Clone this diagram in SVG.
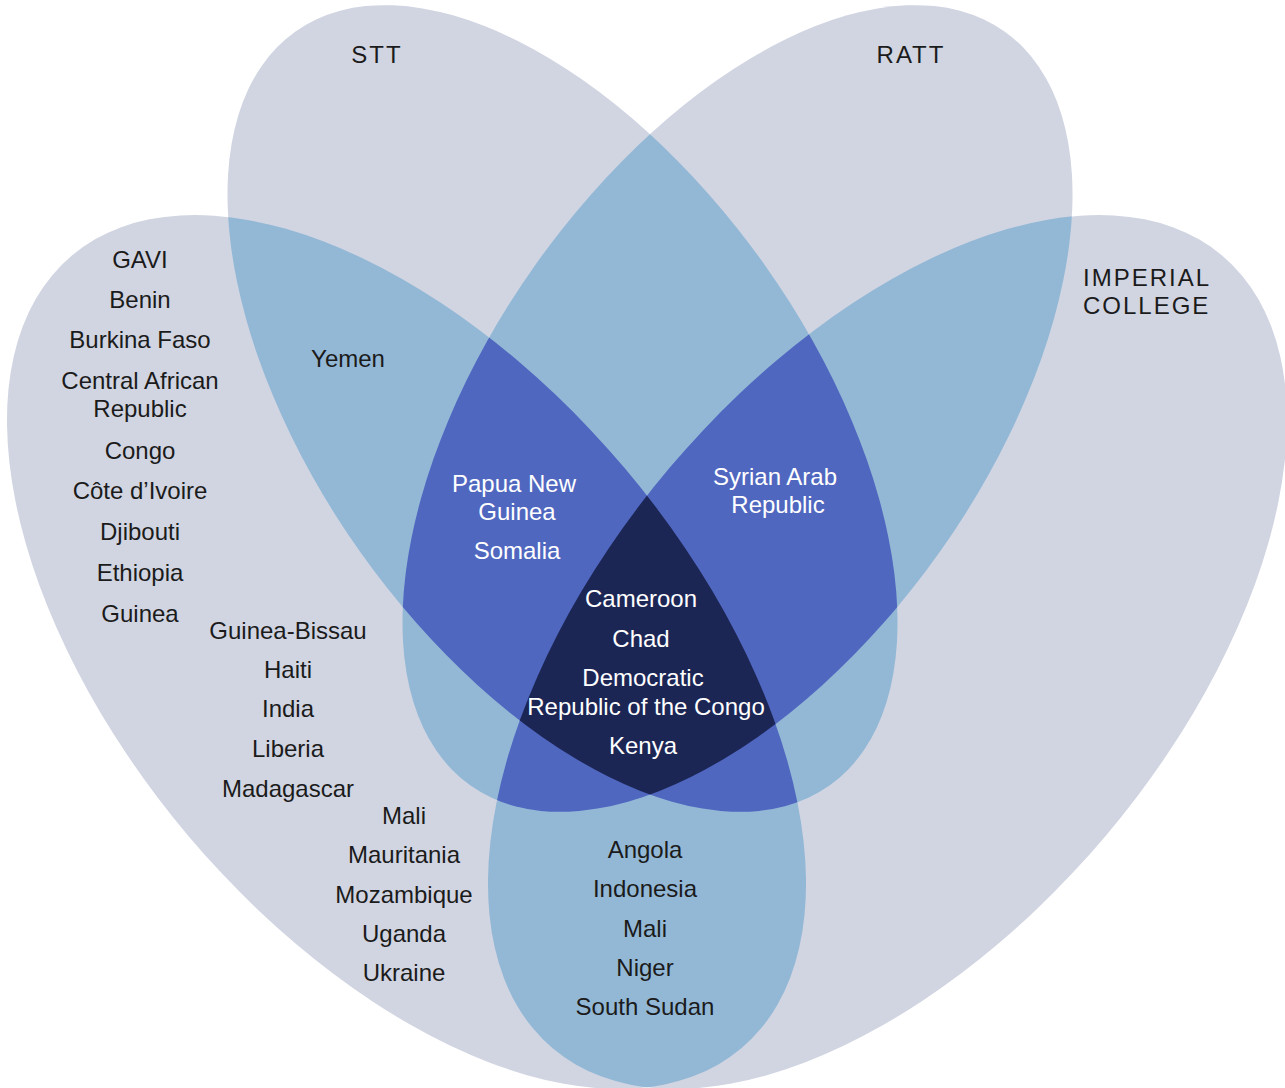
<svg xmlns="http://www.w3.org/2000/svg" width="1285" height="1088" viewBox="0 0 1285 1088">
<style>
.t{font-family:"Liberation Sans",Arial,sans-serif;font-size:24px;text-anchor:middle;fill:#1b1b1b}
.w{fill:#ffffff}
.h{letter-spacing:2px}
.s{text-anchor:start}
</style>
<defs>
<ellipse id="eG" cx="406.5" cy="652" rx="518.8" ry="285.3" transform="rotate(49.8 406.5 652)"/>
<ellipse id="eS" cx="562.5" cy="408.5" rx="462" ry="248" transform="rotate(54.7 562.5 408.5)"/>
<ellipse id="eR" cx="737.5" cy="408.5" rx="462" ry="248" transform="rotate(-54.7 737.5 408.5)"/>
<ellipse id="eI" cx="887.5" cy="652" rx="518.8" ry="285.3" transform="rotate(-49.8 887.5 652)"/>
<clipPath id="cG"><ellipse cx="406.5" cy="652" rx="518.8" ry="285.3" transform="rotate(49.8 406.5 652)"/></clipPath>
<clipPath id="cS"><ellipse cx="562.5" cy="408.5" rx="462" ry="248" transform="rotate(54.7 562.5 408.5)"/></clipPath>
<clipPath id="cR"><ellipse cx="737.5" cy="408.5" rx="462" ry="248" transform="rotate(-54.7 737.5 408.5)"/></clipPath>
<clipPath id="cI"><ellipse cx="887.5" cy="652" rx="518.8" ry="285.3" transform="rotate(-49.8 887.5 652)"/></clipPath>
</defs>
<rect width="1285" height="1088" fill="#ffffff"/>
<g id="sets" fill="#d1d5e2">
<g id="gavi"><use href="#eG"/></g>
<g id="stt"><use href="#eS"/></g>
<g id="ratt"><use href="#eR"/></g>
<g id="imperial"><use href="#eI"/></g>
</g>
<g id="overlap2" fill="#93b8d6">
<use href="#eS" clip-path="url(#cG)"/>
<use href="#eR" clip-path="url(#cG)"/>
<use href="#eI" clip-path="url(#cG)"/>
<use href="#eR" clip-path="url(#cS)"/>
<use href="#eI" clip-path="url(#cS)"/>
<use href="#eI" clip-path="url(#cR)"/>
</g>
<g id="overlap3" fill="#5067c0">
<g clip-path="url(#cG)"><use href="#eR" clip-path="url(#cS)"/></g>
<g clip-path="url(#cG)"><use href="#eI" clip-path="url(#cS)"/></g>
<g clip-path="url(#cG)"><use href="#eI" clip-path="url(#cR)"/></g>
<g clip-path="url(#cS)"><use href="#eI" clip-path="url(#cR)"/></g>
</g>
<g id="overlap4" fill="#1c2655">
<g clip-path="url(#cG)"><g clip-path="url(#cS)"><use href="#eI" clip-path="url(#cR)"/></g></g>
</g>
<g id="label-stt"><text class="t h" x="377" y="63">STT</text></g>
<g id="label-ratt"><text class="t h" x="911" y="63">RATT</text></g>
<g id="label-imperial"><text class="t h s" x="1083" y="286">IMPERIAL</text><text class="t h s" x="1083" y="314">COLLEGE</text></g>
<g id="gavi-only">
<text class="t" x="140" y="268">GAVI</text>
<text class="t" x="140" y="308">Benin</text>
<text class="t" x="140" y="347.5">Burkina Faso</text>
<text class="t" x="140" y="389">Central African</text>
<text class="t" x="140" y="417">Republic</text>
<text class="t" x="140" y="458.5">Congo</text>
<text class="t" x="140" y="498.5">Côte d’Ivoire</text>
<text class="t" x="140" y="540">Djibouti</text>
<text class="t" x="140" y="581">Ethiopia</text>
<text class="t" x="140" y="621.5">Guinea</text>
<text class="t" x="288" y="639">Guinea-Bissau</text>
<text class="t" x="288" y="677.5">Haiti</text>
<text class="t" x="288" y="717">India</text>
<text class="t" x="288" y="757">Liberia</text>
<text class="t" x="288" y="797">Madagascar</text>
<text class="t" x="404" y="823.5">Mali</text>
<text class="t" x="404" y="863">Mauritania</text>
<text class="t" x="404" y="902.5">Mozambique</text>
<text class="t" x="404" y="942">Uganda</text>
<text class="t" x="404" y="981">Ukraine</text>
</g>
<g id="gavi-imperial">
<text class="t" x="645" y="857.5">Angola</text>
<text class="t" x="645" y="897">Indonesia</text>
<text class="t" x="645" y="936.5">Mali</text>
<text class="t" x="645" y="975.5">Niger</text>
<text class="t" x="645" y="1015">South Sudan</text>
</g>
<g id="gavi-stt"><text class="t" x="348" y="367">Yemen</text></g>
<g id="gavi-stt-ratt">
<text class="t w" x="514" y="491.5">Papua New</text>
<text class="t w" x="517" y="519.5">Guinea</text>
<text class="t w" x="517" y="559">Somalia</text>
</g>
<g id="stt-ratt-imperial">
<text class="t w" x="775" y="484.5">Syrian Arab</text>
<text class="t w" x="778" y="513">Republic</text>
</g>
<g id="all-four">
<text class="t w" x="641" y="606.5">Cameroon</text>
<text class="t w" x="641" y="646.5">Chad</text>
<text class="t w" x="643" y="685.5">Democratic</text>
<text class="t w" x="646" y="714.5">Republic of the Congo</text>
<text class="t w" x="643" y="754">Kenya</text>
</g>
</svg>
